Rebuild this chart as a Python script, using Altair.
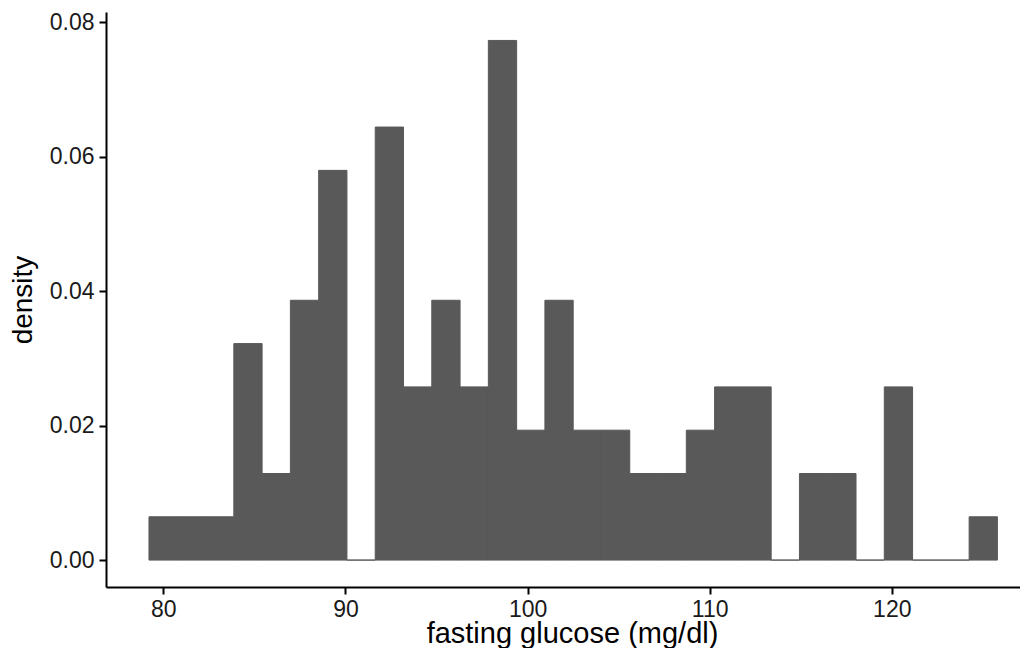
import altair as alt
import pandas as pd

# Histogram of fasting glucose (n = 100), 30 bins
bin_first_edge = 79.21
bin_width = 1.553
counts = [1, 1, 1, 5, 2, 6, 9, 0, 10, 4,
          6, 4, 12, 3, 6, 3, 3, 2, 2, 3,
          4, 4, 0, 2, 2, 0, 4, 0, 0, 1]
n_total = 100
x_ticks = [80, 90, 100, 110, 120]
y_ticks = [0.00, 0.02, 0.04, 0.06, 0.08]
x_domain = [76.85, 127.04]
y_domain = [-0.0040, 0.0815]

df = pd.DataFrame({
    "start": [bin_first_edge + i * bin_width for i in range(len(counts))],
    "end": [bin_first_edge + (i + 1) * bin_width for i in range(len(counts))],
    "density": [c / (n_total * bin_width) for c in counts],
})
df["zero"] = 0.0

FONT = "Liberation Sans"

chart = alt.Chart(df).mark_rect(
    color="#595959", stroke="#595959", strokeWidth=1
).encode(
    x=alt.X("start:Q",
            scale=alt.Scale(domain=x_domain, nice=False, zero=False),
            axis=alt.Axis(values=x_ticks, title="fasting glucose (mg/dl)",
                          format="d")),
    x2="end:Q",
    y=alt.Y("density:Q",
            scale=alt.Scale(domain=y_domain, nice=False, zero=False),
            axis=alt.Axis(values=y_ticks, title="density", format=".2f")),
    y2="zero:Q",
).properties(
    width=914,
    height=575,
    autosize=alt.AutoSizeParams(type="none"),
    padding={"left": 98, "top": 4, "right": 0, "bottom": 61},
).configure_view(
    stroke=None
).configure_axis(
    grid=False,
    domainColor="black",
    domainWidth=2,
    tickColor="black",
    tickWidth=2,
    tickSize=7,
    labelFont=FONT,
    labelFontSize=23,
    labelColor="#1a1a1a",
    labelPadding=5,
    titleFont=FONT,
    titleFontSize=28,
    titleFontWeight="normal",
    titleColor="black",
).configure_axisX(
    titleBaseline="alphabetic",
    titleFontSize=29,
    titleY=55,
    titleX=466,
    titleAlign="center",
    labelPadding=4,
    labelFlush=False,
).configure_axisY(
    titlePadding=12,
    labelFlush=False,
)

chart.save("out.html", embed_options={"renderer": "svg", "actions": False})
